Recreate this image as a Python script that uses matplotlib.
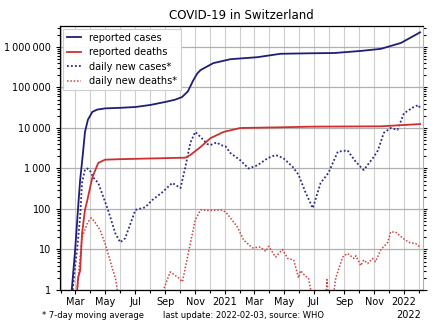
import matplotlib
matplotlib.use("Agg")
import matplotlib.pyplot as plt
import matplotlib.dates as mdates
import matplotlib.ticker as mticker
import numpy as np

# ---- data ----
cases_dates = ["2020-02-23", "2020-03-01", "2020-03-07", "2020-03-11", "2020-03-17", "2020-03-21",
               "2020-03-27", "2020-04-05", "2020-04-15", "2020-05-01", "2020-06-01", "2020-07-02",
               "2020-08-01", "2020-09-01", "2020-09-21", "2020-10-05", "2020-10-17", "2020-10-28",
               "2020-11-05", "2020-11-12", "2020-12-08", "2021-01-12", "2021-03-08", "2021-04-24",
               "2021-06-25", "2021-08-12", "2021-10-05", "2021-11-15", "2021-12-26", "2022-02-03"]
cases_vals = [1, 10, 110, 500, 2500, 8000,
              16000, 25000, 28500, 30500, 31500, 33000,
              37000, 44000, 50000, 58000, 80000, 150000,
              220000, 270000, 400000, 500000, 560000, 680000,
              700000, 710000, 800000, 900000, 1260000, 2300000]

deaths_dates = ["2020-03-05", "2020-03-07", "2020-03-11", "2020-03-15", "2020-03-21", "2020-03-26",
                "2020-04-05", "2020-04-17", "2020-05-01", "2020-06-01", "2020-10-12", "2020-10-22",
                "2020-11-12", "2020-12-02", "2020-12-29", "2021-02-01", "2021-04-24", "2021-06-25",
                "2021-11-15", "2022-02-03"]
deaths_vals = [1, 2, 3, 25, 95, 170,
               600, 1370, 1650, 1700, 1850, 2150,
               3400, 5600, 8000, 10000, 10400, 10800,
               11000, 12500]

new_cases_dates = ["2020-02-24", "2020-03-01", "2020-03-05", "2020-03-11", "2020-03-15", "2020-03-21",
                   "2020-03-26", "2020-04-01", "2020-04-07", "2020-04-17", "2020-05-07", "2020-05-22",
                   "2020-06-01", "2020-06-11", "2020-07-02", "2020-07-22", "2020-08-05", "2020-08-26",
                   "2020-09-15", "2020-10-02", "2020-10-12", "2020-10-22", "2020-11-01", "2020-11-12",
                   "2020-11-26", "2020-12-02", "2020-12-15", "2020-12-23", "2021-01-02", "2021-01-12",
                   "2021-02-01", "2021-02-18", "2021-03-08", "2021-03-29", "2021-04-14", "2021-04-30",
                   "2021-05-19", "2021-05-31", "2021-06-14", "2021-06-29", "2021-07-15", "2021-07-31",
                   "2021-08-19", "2021-09-08", "2021-09-25", "2021-10-11", "2021-10-31", "2021-11-09",
                   "2021-11-21", "2021-12-05", "2021-12-19", "2022-01-01", "2022-01-21", "2022-01-31",
                   "2022-02-03"]
new_cases_vals = [0.8, 4, 10, 63, 440, 950,
                  1000, 850, 600, 440, 95, 25,
                  15, 19, 95, 110, 165, 260,
                  440, 330, 1100, 4300, 8000, 6000,
                  4000, 3800, 4400, 3800, 3500, 2400,
                  1600, 1000, 1200, 1800, 2150, 1800,
                  1100, 700, 260, 105, 440, 780,
                  2600, 2800, 1450, 920, 1900, 2800,
                  7600, 10000, 9000, 23000, 33000, 37000,
                  31000]

new_deaths_dates = ["2020-03-05", "2020-03-07", "2020-03-15", "2020-03-27", "2020-04-03", "2020-04-10",
                    "2020-04-21", "2020-05-01", "2020-05-11", "2020-05-18", "2020-05-22", "2020-05-26",
                    "2020-06-05", "2020-08-20", "2020-08-28", "2020-09-11", "2020-09-21", "2020-09-28",
                    "2020-10-06", "2020-10-12", "2020-10-22", "2020-11-01", "2020-11-12", "2020-11-26",
                    "2020-12-08", "2020-12-23", "2021-01-02", "2021-01-12", "2021-01-26", "2021-02-08",
                    "2021-02-26", "2021-03-14", "2021-03-25", "2021-03-31", "2021-04-14", "2021-04-28",
                    "2021-05-09", "2021-05-21", "2021-05-31", "2021-06-04", "2021-06-14", "2021-06-20",
                    "2021-06-25", "2021-07-05", "2021-07-25", "2021-07-28", "2021-07-31", "2021-08-09",
                    "2021-08-15", "2021-08-29", "2021-09-08", "2021-09-21", "2021-09-25", "2021-10-05",
                    "2021-10-11", "2021-10-19", "2021-10-29", "2021-11-04", "2021-11-15", "2021-11-29",
                    "2021-12-05", "2021-12-15", "2021-12-30", "2022-01-11", "2022-01-25", "2022-02-03"]
new_deaths_vals = [0.8, 2, 20, 48, 60, 48,
                   30, 14, 5.5, 2.8, 2, 1,
                   0.4, 0.4, 1, 2.8, 2.3, 2,
                   1.6, 3.7, 14, 53, 95, 92,
                   93, 95, 85, 60, 36, 17,
                   11, 11.5, 9, 12, 6.5, 10,
                   6, 5.5, 2, 3, 2.2, 2,
                   1, 0.5, 0.5, 1.8, 0.6, 0.6,
                   2, 6.5, 8, 6, 7, 4,
                   5.5, 4.5, 6, 5, 10, 15,
                   27, 27, 19, 15, 14, 11.5]

x_start, x_end = "2020-01-30", "2022-02-09"
y_ticks = [1, 10, 100, 1000, 10000, 100000, 1000000]

# ---- drawing ----
plt.rcParams['font.family'] = ['DejaVu Sans']
fig = plt.figure(figsize=(4.4, 3.3), dpi=100)
ax = fig.add_axes([60/440, 40/330, 363/440, 264/330])

def d(lst):
    return np.array(lst, dtype="datetime64[D]")

c_blue = "#1e1e78"
c_red = "#cc3030"
ax.plot(d(cases_dates), cases_vals, color=c_blue, lw=1.3, label="reported cases", zorder=4)
ax.plot(d(deaths_dates), deaths_vals, color=c_red, lw=1.3, label="reported deaths", zorder=4)
ax.plot(d(new_cases_dates), new_cases_vals, color="#2a2a8a", lw=1.3, ls=(0, (1, 1.2)),
        label="daily new cases*", zorder=3)
ax.plot(d(new_deaths_dates), new_deaths_vals, color="#cc4040", lw=1.1, ls=(0, (1, 1.2)),
        label="daily new deaths*", zorder=3)

ax.set_yscale("log")
ax.set_ylim(1, 3.3e6)
ax.set_xlim(np.datetime64(x_start), np.datetime64(x_end))

def yfmt(v, pos):
    return f"{int(round(v)):,}".replace(",", "\u2009")
ax.yaxis.set_major_locator(mticker.FixedLocator(y_ticks))
ax.yaxis.set_major_formatter(mticker.FuncFormatter(yfmt))
ax.yaxis.set_minor_locator(mticker.LogLocator(base=10, subs=np.arange(2, 10)))
ax.yaxis.set_minor_formatter(mticker.NullFormatter())

ax.xaxis.set_major_locator(mdates.MonthLocator(bymonth=[1, 3, 5, 7, 9, 11]))
def xfmt(v, pos):
    dt = mdates.num2date(v)
    return str(dt.year) if dt.month == 1 else dt.strftime("%b")
ax.xaxis.set_major_formatter(mticker.FuncFormatter(xfmt))
ax.xaxis.set_minor_locator(mdates.MonthLocator())

ax.tick_params(which="both", labelsize=7, direction="out", length=3, width=0.8, colors="black")
ax.tick_params(which="minor", length=2)
ax.tick_params(axis="y", which="both", right=True)
ax.tick_params(axis="x", pad=2)

ax.grid(True, which="minor", axis="x", color="#cfcfcf", lw=0.8)
ax.grid(True, which="major", axis="x", color="#cfcfcf", lw=0.8)
ax.grid(True, which="major", axis="y", color="#b0b0b0", lw=0.9)
ax.set_axisbelow(True)
for s in ["left", "bottom", "top"]:
    ax.spines[s].set_color("black")
    ax.spines[s].set_linewidth(0.9)
ax.spines["right"].set_color("#b0b0b0")

ax.set_title("COVID-19 in Switzerland", fontsize=8.5, pad=5)
leg = ax.legend(loc="upper left", fontsize=7, frameon=True, fancybox=False, edgecolor="#cccccc",
                framealpha=0.95, handlelength=1.5, handletextpad=0.8, labelspacing=0.45,
                borderaxespad=0.3, borderpad=0.4)
leg.get_frame().set_linewidth(0.8)

fig.text(42/440, 1 - 315/330, "* 7-day moving average", fontsize=6, va="center", ha="left")
fig.text(163/440, 1 - 315/330, "last update: 2022-02-03, source: WHO", fontsize=6,
         va="center", ha="left")
fig.text(409/440, 1 - 315/330, "2022", fontsize=7, va="center", ha="center")

fig.savefig("out.png", dpi=100)
